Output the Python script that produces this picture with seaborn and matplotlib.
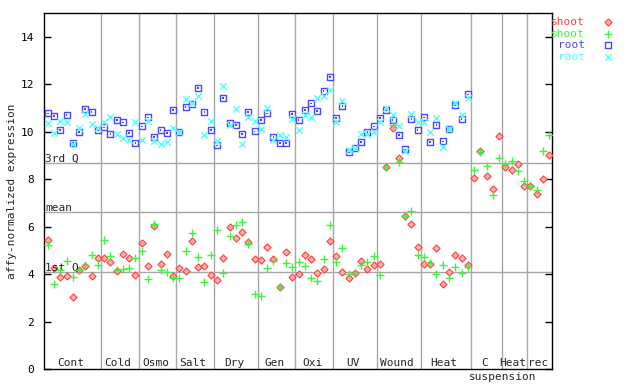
import numpy as np
import pandas as pd
import matplotlib
matplotlib.use("Agg")
import matplotlib.pyplot as plt
import matplotlib.transforms as mtransforms
import seaborn as sns

# treatment groups along the x axis and how many samples each has
groups = ["Cont", "Cold", "Osmo", "Salt", "Dry", "Gen", "Oxi", "UV", "Wound", "Heat", "C", "Heat", "rec"]
group_sizes = [9, 6, 6, 6, 7, 6, 6, 7, 7, 8, 5, 4, 4]

# shoot, first probe (red diamonds)
shoot_red = [5.45, 4.27, 3.88, 3.91, 3.02, 4.16, 4.33, 3.91, 4.67,
             4.67, 4.50, 4.12, 4.84, 4.67, 3.95,
             5.30, 4.33, 6.05, 4.41, 4.84, 3.91,
             4.25, 4.12, 5.38, 4.29, 4.33, 3.95,
             3.74, 4.67, 5.97, 5.51, 5.76, 5.34, 4.63,
             4.58, 5.13, 4.63, 3.44, 4.92, 3.87,
             3.99, 4.79, 4.63, 4.03, 4.20, 5.38,
             4.75, 4.08, 3.82, 4.03, 4.54, 4.20, 4.37,
             4.41, 8.51, 10.15, 8.88, 6.44, 6.10, 5.13,
             4.41, 4.41, 5.09, 3.57, 4.08, 4.79, 4.67, 4.37,
             8.04, 9.21, 8.13, 7.58, 9.81,
             8.51, 8.38, 8.63, 7.70,
             7.70, 7.37, 8.00, 9.01]

# shoot, second probe (green plus)
shoot_green = [5.22, 3.57, 4.16, 4.54, 3.88, 4.16, 4.37, 4.79, 4.37,
               5.43, 4.75, 4.16, 4.22, 4.25, 4.67,
               4.96, 3.78, 6.10, 4.16, 4.08, 3.82,
               3.82, 4.96, 5.72, 4.71, 3.66, 4.79,
               5.85, 4.03, 5.60, 6.06, 6.19, 5.26, 3.15,
               3.06, 4.25, 4.54, 3.44, 4.46, 4.29,
               4.50, 4.33, 3.82, 3.70, 4.63, 6.06,
               4.50, 5.09, 3.99, 4.03, 4.37, 4.50, 4.75,
               3.95, 8.51, 10.28, 8.72, 6.44, 6.65, 4.79,
               4.71, 4.46, 3.99, 4.37, 3.82, 4.29, 4.03, 4.29,
               8.38, 9.14, 8.55, 7.32, 8.88,
               8.63, 8.76, 8.34, 7.92,
               7.70, 7.54, 9.18, 9.86]

# root, first probe (blue squares) - no root samples for the last three groups
root_blue = [10.78, 10.66, 10.07, 10.70, 9.55, 9.98, 10.95, 10.83, 10.07,
             10.19, 9.90, 10.49, 10.40, 9.94, 9.52,
             10.23, 10.61, 9.77, 10.07, 9.94, 10.91,
             9.98, 11.04, 11.16, 11.84, 10.83, 10.07,
             9.43, 11.42, 10.36, 10.28, 9.90, 10.83, 10.02,
             10.49, 10.78, 9.77, 9.52, 9.52, 10.74,
             10.49, 10.91, 11.20, 10.87, 11.71, 12.30,
             10.57, 11.08, 9.14, 9.33, 9.56, 9.98, 10.23,
             10.57, 10.91, 10.49, 9.86, 9.26, 10.53, 10.07,
             10.61, 9.56, 10.28, 9.60, 10.11, 11.12, 10.53, 11.58]

# root, second probe (cyan x)
root_cyan = [10.36, 9.95, 10.45, 10.42, 9.48, 10.16, 10.74, 10.32, 10.17,
             10.40, 10.61, 9.92, 9.73, 9.64, 10.40,
             9.64, 10.45, 9.60, 9.48, 9.56, 10.15,
             9.98, 11.37, 11.20, 11.50, 9.86, 10.45,
             9.60, 11.92, 10.28, 10.95, 9.48, 10.61, 10.45,
             10.11, 10.99, 9.64, 9.86, 9.77, 10.53,
             10.07, 10.70, 10.61, 11.42, 11.50, 11.75,
             10.40, 11.29, 9.22, 9.30, 9.90, 9.92, 9.98,
             10.40, 10.99, 10.70, 10.23, 9.18, 10.74, 10.40,
             10.40, 9.98, 10.57, 9.35, 10.11, 11.20, 10.70, 11.42]

# reference levels
ref_names = ["3rd Q", "mean", "1st Q"]
ref_values = [8.67, 6.61, 4.08]

n = len(shoot_red)
pad = [np.nan] * (n - len(root_blue))
df = pd.DataFrame({
    "sample": np.arange(n),
    "shoot_red": shoot_red,
    "shoot_green": shoot_green,
    "root_blue": root_blue + pad,
    "root_cyan": root_cyan + pad,
})

sns.set_style("white")
plt.rcParams["font.family"] = ["DejaVu Sans Mono"]
plt.rcParams["font.size"] = 8

fig = plt.figure(figsize=(6.4, 3.84), dpi=100)
ax = fig.add_axes([44 / 640, 1 - 369 / 384, 508 / 640, 355.7 / 384])

grey = "#a8a8a8"
for v in ref_values:
    ax.axhline(v, color=grey, lw=1.0, zorder=1)
bounds = np.cumsum(group_sizes)[:-1] - 0.5
for b in bounds:
    ax.axvline(b, color=grey, lw=1.0, zorder=1)

sns.scatterplot(data=df, x="sample", y="shoot_red", marker="D", s=13, color="#ffb0b0",
                edgecolor="#ff4040", linewidth=0.8, label="shoot", ax=ax, zorder=3)
sns.scatterplot(data=df, x="sample", y="shoot_green", marker="+", s=30, color="#40f040",
                linewidth=1.0, label="shoot", ax=ax, zorder=4)
sns.scatterplot(data=df, x="sample", y="root_blue", marker="s", s=18, color="white",
                edgecolor="#4848ff", linewidth=1.0, label="root", ax=ax, zorder=3)
sns.scatterplot(data=df, x="sample", y="root_blue", marker="s", s=1.5, color="#4848ff",
                edgecolor="none", linewidth=0, label="_dot", ax=ax, zorder=3)
sns.scatterplot(data=df, x="sample", y="root_cyan", marker="x", s=22, color="#50ffff",
                linewidth=1.0, label="root", ax=ax, zorder=4)

ax.set_xlim(-0.59, 80.43)
ax.set_ylim(0, 15)
ax.set_xticks([])
ax.set_xlabel("")
ax.set_yticks(np.arange(0, 15, 2))
ax.tick_params(axis="y", direction="in", length=5, width=1, left=True, right=True,
               labelright=False, labelsize=8, pad=7, colors="black")
for sp in ax.spines.values():
    sp.set_color("black")
    sp.set_linewidth(1.0)

ax.set_ylabel("affy-normalized expression", fontsize=8)
ax.yaxis.set_label_coords(-0.053, 0.5)

# reference line labels
ytrans = mtransforms.blended_transform_factory(ax.transAxes, ax.transData)
for name, v in zip(ref_names, ref_values):
    ax.text(0.002, v + 0.05, name, transform=ytrans, ha="left", va="baseline", fontsize=8)

# group labels
xtrans = mtransforms.blended_transform_factory(ax.transData, ax.transAxes)
starts = np.concatenate([[0], np.cumsum(group_sizes)[:-1]])
for name, st, size in zip(groups, starts, group_sizes):
    ax.text(st + (size - 1) / 2 - 0.3, 0.008, name, transform=xtrans,
            ha="center", va="baseline", fontsize=8)
ax.text(72.5, -0.023, "suspension", transform=xtrans, ha="center", va="center",
        fontsize=8, clip_on=False)

# legend on the right, text before the marker
handles, labels = ax.get_legend_handles_labels()
keep = [i for i, l in enumerate(labels) if not l.startswith("_")]
leg = ax.legend([handles[i] for i in keep], [labels[i] for i in keep],
                loc="upper left", bbox_to_anchor=(551 / 640, 1 - 17 / 384),
                bbox_transform=fig.transFigure, frameon=False, markerfirst=False,
                handlelength=1.0, handletextpad=1.6, labelspacing=0.15,
                borderpad=0, borderaxespad=0, fontsize=8)
for txt, c in zip(leg.get_texts(), ["#ff4040", "#40f040", "#4848ff", "#50ffff"]):
    txt.set_color(c)

fig.savefig("out.png", dpi=100)
